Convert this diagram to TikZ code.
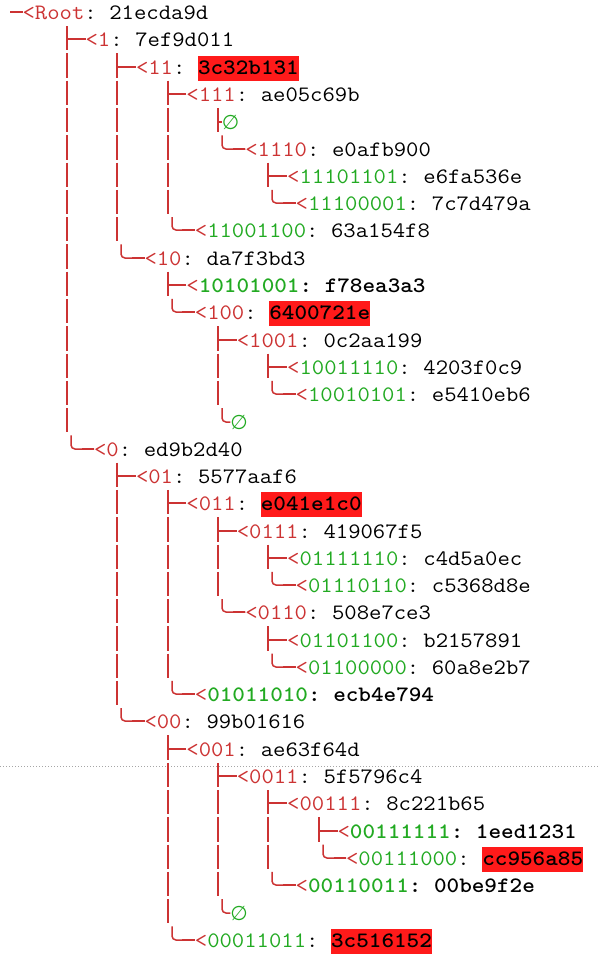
\documentclass[tikz,border=0pt]{standalone}
\usepackage{fontspec}
\usepackage{graphicx}
\newfontfamily\djv{DejaVu Sans}
\definecolor{tred}{RGB}{204,51,51}
\definecolor{tgreen}{RGB}{34,170,34}
\definecolor{hlred}{RGB}{255,26,26}
\newcommand\R[1]{\textcolor{tred}{#1}}
\newcommand\G[1]{\textcolor{tgreen}{#1}}
\newcommand\mt[1]{\scalebox{1.0909}[1]{#1}}
\tikzset{
 mono/.style={font=\fontsize{22}{26}\selectfont\ttfamily, inner sep=0pt, outer sep=0pt, anchor=base west},
 lbl/.style={mono},
 hp/.style={mono, text=black},
 hl/.style={mono, text=black, fill=hlred, text height=18.3pt, text depth=6.7pt},
 tree/.style={draw=tred, line width=2pt},
 vbar/.style={tree, dash pattern=on 24.3pt off 2.98pt},
 tcorner/.style={draw=tred, line width=1.5pt, rounded corners=4pt},
 nulls/.style={font=\djv\fontsize{20}{24}\selectfont, text=tgreen, inner sep=0pt, outer sep=0pt},
}
% entry: name, col, row, shift, key text, hash style, hash
\newcommand\ent[7]{%
 \coordinate (#1-t) at ({round(16.3+12.6*#2)},{-1.1+27.28*(#3-1)});
 \node[lbl] (#1) at ({10+12.6*(#2+2)+#4},{round(19.2+27.28*(#3-1))}) {\mt{#5}};
 \node[#6] (#1-h) at ([xshift=12.6pt]#1.base east) {\mt{#7}};
}
% empty child: name, col, row, shift
\newcommand\nul[4]{%
 \coordinate (#1-t) at ({round(16.3+12.6*#2)},{-1.1+27.28*(#3-1)});
 \node[nulls] (#1) at ({16.3+12.6*#2+12.6+#4},{round(12.5+27.28*(#3-1))}) {∅};
}
\newcommand\teeline[1]{\draw[tree] ([yshift=7pt]#1.base west) -- ([yshift=7pt]#1.base west -| #1-t);}
\newcommand\lastline[1]{\draw[tcorner] ([xshift=4pt]#1-t) |- ([yshift=7pt]#1.base west);
 \draw[tree] ([yshift=7pt]#1.base west) -- ++(-12.6,0);}
\begin{document}
\begin{tikzpicture}[x=1pt,y=-1pt]
\fill[white] (0,0) rectangle (599,970);
\useasboundingbox (0,0) rectangle (599,970);
\draw[gray!70, line width=0.7pt, dash pattern=on 0.8pt off 2.2pt] (0,766.5) -- (599,766.5);
% root
\node[lbl] (root) at (22.6,19) {\mt{\R{<Root}:}};
\node[hp] (root-h) at ([xshift=12.6pt]root.base east) {\mt{21ecda9d}};
\draw[tree] ([yshift=7pt]root.base west) -- ++(-12.6,0);
% entries
\ent{n1}{4}{2}{0}{\R{<1}:}{hp}{7ef9d011}
\ent{n11}{8}{3}{0}{\R{<11}:}{hl}{\bfseries 3c32b131}
\ent{n111}{12}{4}{0}{\R{<111}:}{hp}{ae05c69b}
\nul{e1}{16}{5}{0}
\ent{n1110}{16}{6}{8.5}{\R{<1110}:}{hp}{e0afb900}
\ent{n11101101}{20}{7}{0}{\R{<}\G{11101101}:}{hp}{e6fa536e}
\ent{n11100001}{20}{8}{8.5}{\R{<}\G{11100001}:}{hp}{7c7d479a}
\ent{n11001100}{12}{9}{8.5}{\R{<}\G{11001100}:}{hp}{63a154f8}
\ent{n10}{8}{10}{8.5}{\R{<10}:}{hp}{da7f3bd3}
\ent{n10101001}{12}{11}{0}{\R{<}{\bfseries\G{10101001}:}}{hp}{\bfseries f78ea3a3}
\ent{n100}{12}{12}{8.5}{\R{<100}:}{hl}{\bfseries 6400721e}
\ent{n1001}{16}{13}{0}{\R{<1001}:}{hp}{0c2aa199}
\ent{n10011110}{20}{14}{0}{\R{<}\G{10011110}:}{hp}{4203f0c9}
\ent{n10010101}{20}{15}{8.5}{\R{<}\G{10010101}:}{hp}{e5410eb6}
\nul{e2}{16}{16}{8.5}
\ent{n0}{4}{17}{8.5}{\R{<0}:}{hp}{ed9b2d40}
\ent{n01}{8}{18}{0}{\R{<01}:}{hp}{5577aaf6}
\ent{n011}{12}{19}{0}{\R{<011}:}{hl}{\bfseries e041e1c0}
\ent{n0111}{16}{20}{0}{\R{<0111}:}{hp}{419067f5}
\ent{n01111110}{20}{21}{0}{\R{<}\G{01111110}:}{hp}{c4d5a0ec}
\ent{n01110110}{20}{22}{8.5}{\R{<}\G{01110110}:}{hp}{c5368d8e}
\ent{n0110}{16}{23}{8.5}{\R{<0110}:}{hp}{508e7ce3}
\ent{n01101100}{20}{24}{0}{\R{<}\G{01101100}:}{hp}{b2157891}
\ent{n01100000}{20}{25}{8.5}{\R{<}\G{01100000}:}{hp}{60a8e2b7}
\ent{n01011010}{12}{26}{8.5}{\R{<}{\bfseries\G{01011010}:}}{hp}{\bfseries ecb4e794}
\ent{n00}{8}{27}{8.5}{\R{<00}:}{hp}{99b01616}
\ent{n001}{12}{28}{0}{\R{<001}:}{hp}{ae63f64d}
\ent{n0011}{16}{29}{0}{\R{<0011}:}{hp}{5f5796c4}
\ent{n00111}{20}{30}{0}{\R{<00111}:}{hp}{8c221b65}
\ent{n00111111}{24}{31}{0}{\R{<}{\bfseries\G{00111111}:}}{hp}{\bfseries 1eed1231}
\ent{n00111000}{24}{32}{8.5}{\R{<}\G{00111000}:}{hl}{\bfseries cc956a85}
\ent{n00110011}{20}{33}{8.5}{\R{<}{\bfseries\G{00110011}:}}{hp}{\bfseries 00be9f2e}
\nul{e3}{16}{34}{8.5}
\ent{n00011011}{12}{35}{8.5}{\R{<}\G{00011011}:}{hl}{\bfseries 3c516152}
% vertical bars
\draw[vbar] (n1-t) -- ([yshift=2.98pt]n0-t);
\draw[vbar] (n11-t) -- ([yshift=2.98pt]n10-t);
\draw[vbar] (n111-t) -- ([yshift=2.98pt]n11001100-t);
\draw[vbar] (e1-t) -- ([yshift=2.98pt]n1110-t);
\draw[vbar] (n11101101-t) -- ([yshift=2.98pt]n11100001-t);
\draw[vbar] (n10101001-t) -- ([yshift=2.98pt]n100-t);
\draw[vbar] (n1001-t) -- ([yshift=2.98pt]e2-t);
\draw[vbar] (n10011110-t) -- ([yshift=2.98pt]n10010101-t);
\draw[vbar] (n01-t) -- ([yshift=2.98pt]n00-t);
\draw[vbar] (n011-t) -- ([yshift=2.98pt]n01011010-t);
\draw[vbar] (n0111-t) -- ([yshift=2.98pt]n0110-t);
\draw[vbar] (n01111110-t) -- ([yshift=2.98pt]n01110110-t);
\draw[vbar] (n01101100-t) -- ([yshift=2.98pt]n01100000-t);
\draw[vbar] (n001-t) -- ([yshift=2.98pt]n00011011-t);
\draw[vbar] (n0011-t) -- ([yshift=2.98pt]e3-t);
\draw[vbar] (n00111-t) -- ([yshift=2.98pt]n00110011-t);
\draw[vbar] (n00111111-t) -- ([yshift=2.98pt]n00111000-t);
% horizontal tees
\teeline{n1}\teeline{n11}\teeline{n111}\teeline{n11101101}\teeline{n10101001}
\teeline{n1001}\teeline{n10011110}\teeline{n01}\teeline{n011}\teeline{n0111}
\teeline{n01111110}\teeline{n01101100}\teeline{n001}\teeline{n0011}\teeline{n00111}
\teeline{n00111111}
\draw[tree] (e1-t |- e1) -- (e1.west);
% last-child corners
\lastline{n1110}\lastline{n11100001}\lastline{n11001100}\lastline{n10}\lastline{n100}
\lastline{n10010101}\lastline{n0}\lastline{n01110110}\lastline{n0110}\lastline{n01100000}
\lastline{n01011010}\lastline{n00}\lastline{n00111000}\lastline{n00110011}\lastline{n00011011}
\draw[tcorner] ([xshift=4pt]e2-t) |- (e2.west);
\draw[tcorner] ([xshift=4pt]e3-t) |- (e3.west);
\end{tikzpicture}
\end{document}
